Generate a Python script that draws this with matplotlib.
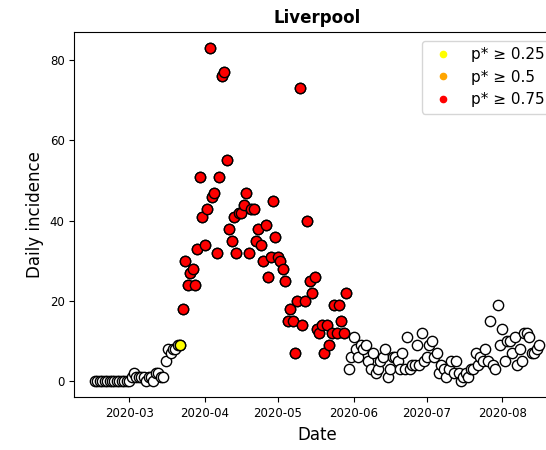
import numpy as np
import pandas as pd
import matplotlib
matplotlib.use('Agg')
import matplotlib.pyplot as plt
import matplotlib.dates as mdates
from matplotlib.lines import Line2D

# Datos (casos diarios desde 2020-02-16)
start = '2020-02-16'
incidence = [0, 0, 0, 0, 0, 0, 0, 0, 0, 0, 0, 0, 0, 0,            # feb
             0, 1, 2, 1, 1, 1, 1, 0, 1, 1, 0, 2, 2, 1, 1,         # 1-15 mar
             5, 8, 7, 8, 8, 9, 9,                                 # 16-22 mar
             18, 30, 24, 27, 28, 24, 33, 51, 41,                  # 23-31 mar
             34, 43, 83, 46, 47, 32, 51, 76, 77, 55, 38, 35, 41, 32, 42,
             42, 44, 47, 32, 43, 43, 35, 38, 34, 30, 39, 26, 31, 45, 36,   # abr
             31, 30, 28, 25, 15, 18, 15, 7, 20, 73, 14, 20, 40, 25, 22,
             26, 13, 12, 14, 7, 14, 9, 12, 19, 12, 19, 15, 12, 22,         # may 1-29
             3, 6,
             11, 8, 6, 9, 8, 9, 5, 3, 7, 2, 3, 5, 6, 8, 1,
             3, 6, 6, 5, 3, 7, 3, 11, 3, 4, 4, 9, 4, 12, 5,               # jun
             6, 9, 10, 6, 7, 2, 4, 3, 1, 3, 5, 2, 5, 2, 0, 1,
             2, 1, 3, 3, 7, 4, 6, 5, 8, 5, 15, 4, 3, 19, 9,               # jul
             13, 5, 10, 10, 7, 11, 4, 8, 5, 12, 12, 11, 7, 7, 8, 9]       # ago

# Dias con p* por encima de cada umbral
yellow_days = ['2020-03-22']
orange_days = []
red_from = '2020-03-23'
red_to = '2020-05-29'

legend_labels = ['p* \u2265 0.25', 'p* \u2265 0.5', 'p* \u2265 0.75']
legend_colors = ['yellow', 'orange', 'red']

dates = pd.date_range(start, periods=len(incidence))
inc = np.array(incidence)

is_yellow = dates.isin(pd.to_datetime(yellow_days))
is_orange = dates.isin(pd.to_datetime(orange_days))
is_red = (dates >= pd.Timestamp(red_from)) & (dates <= pd.Timestamp(red_to))

fig = plt.figure(figsize=(5.46, 4.5), dpi=100)
ax = fig.add_axes([0.1363, 0.1167, 0.8894, 0.8129])

# todos los puntos en blanco, luego los coloreados encima
ax.scatter(dates, inc, s=55, facecolors='white', edgecolors='black', linewidths=1, zorder=2)
ax.scatter(dates[is_yellow], inc[is_yellow], s=55, facecolors='yellow', edgecolors='black', linewidths=1, zorder=3)
ax.scatter(dates[is_orange], inc[is_orange], s=55, facecolors='orange', edgecolors='black', linewidths=1, zorder=3)
ax.scatter(dates[is_red], inc[is_red], s=55, facecolors='red', edgecolors='black', linewidths=1, zorder=3)

mar1 = pd.Timestamp('2020-03-01')
ax.set_xlim(mar1 - pd.Timedelta(days=22.4), mar1 + pd.Timedelta(days=176.6))
ax.set_ylim(-4.15, 87.15)
ax.set_yticks([0, 20, 40, 60, 80])
ax.xaxis.set_major_locator(mdates.MonthLocator())
ax.xaxis.set_major_formatter(mdates.DateFormatter('%Y-%m'))
ax.tick_params(labelsize=8.5)

ax.set_title('Liverpool', fontsize=12, fontweight='bold')
ax.set_xlabel('Date', fontsize=12)
ax.set_ylabel('Daily incidence', fontsize=12)

handles = [Line2D([], [], marker='o', ls='', color=c, markersize=4.5, label=l)
           for c, l in zip(legend_colors, legend_labels)]
ax.legend(handles=handles, loc='upper left', fontsize=11, borderaxespad=0,
          bbox_to_anchor=(422 / 546, 1 - 41 / 450), bbox_transform=fig.transFigure)

plt.savefig('out.png', dpi=100)
